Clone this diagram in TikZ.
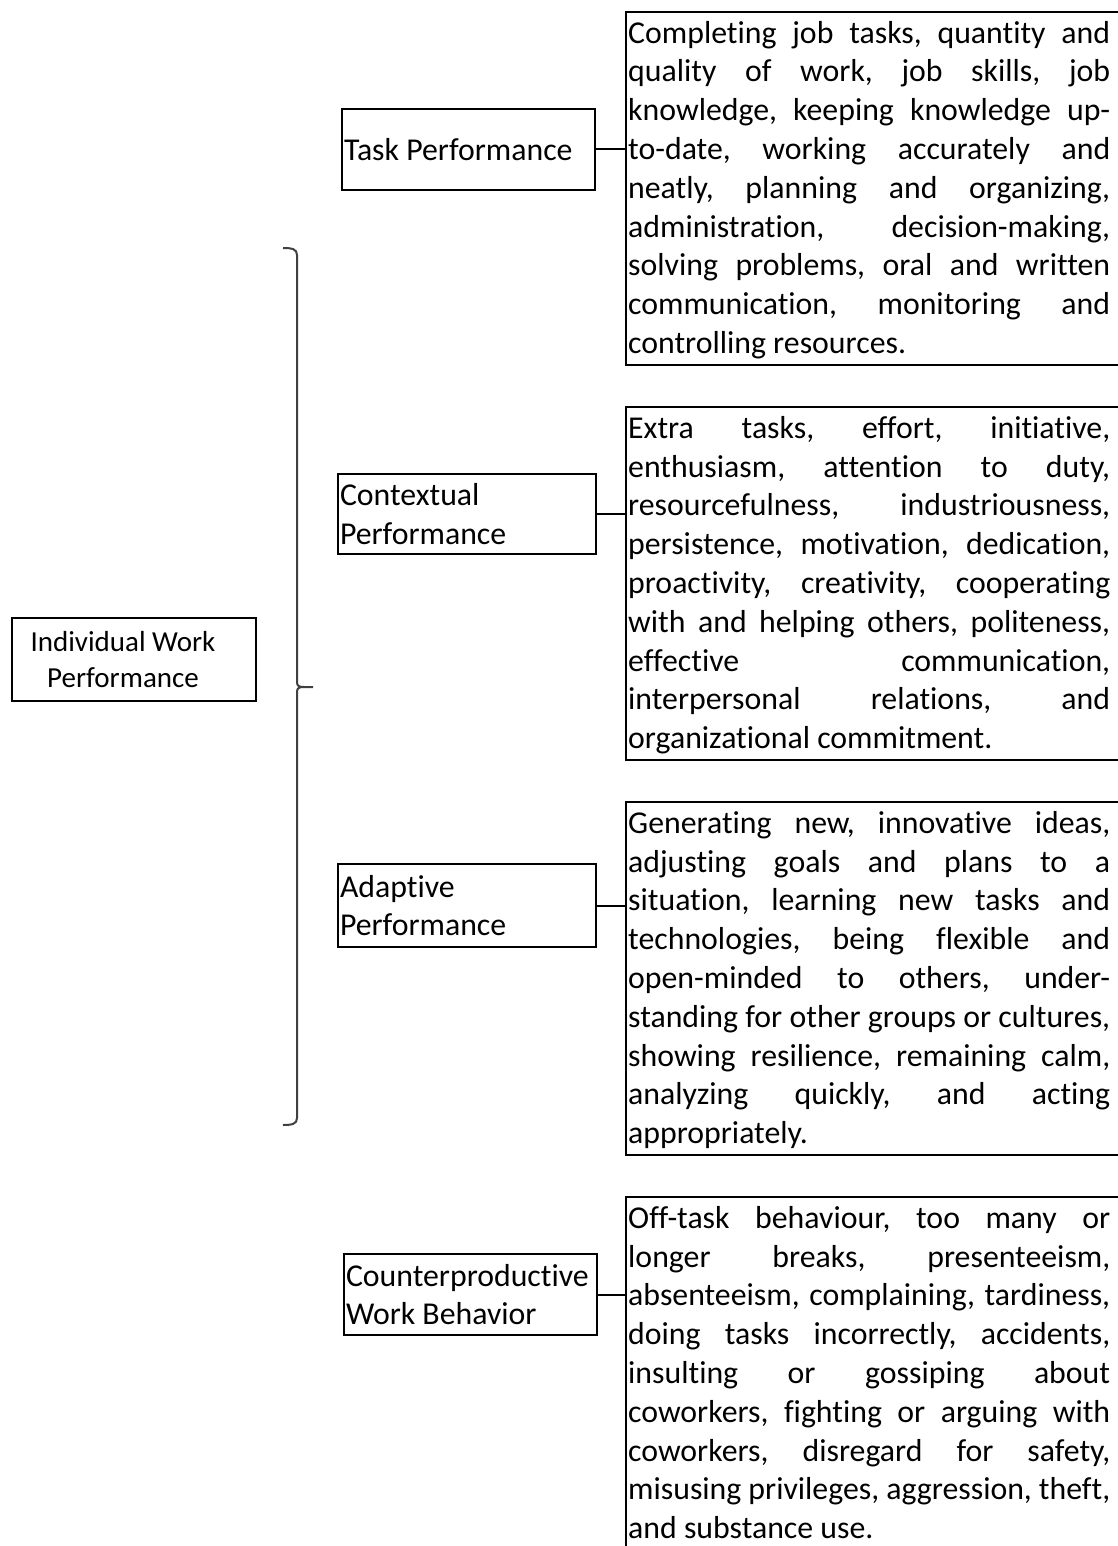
\documentclass[tikz,border=0pt]{standalone}
\usepackage{fontspec}
\setmainfont{Carlito}[Ligatures=NoCommon]
\newcommand\jline[1]{\makebox[\linewidth][s]{#1}\par}
\newcommand\lline[1]{\makebox[\linewidth][l]{#1}\par}
\begin{document}
\begin{tikzpicture}[x=1pt,y=-1pt,
  every node/.style={font=\fontsize{31.8pt}{38.8pt}\selectfont},
  frame/.style={draw=black,line width=2pt},
  lbox/.style={draw=black,line width=2pt,anchor=north west,inner xsep=2pt,inner ysep=0pt,align=flush left},
  rootbox/.style={draw=black,line width=2pt,anchor=north west,inner sep=0pt,align=center,
    font=\fontsize{29pt}{35.4pt}\selectfont},
  desc/.style={anchor=north west,inner xsep=2pt,inner ysep=0pt,text height=31pt,text depth=322pt},
  link/.style={draw=black,line width=2pt},
  bracket/.style={draw=black!75,line width=2pt}]
\path[use as bounding box] (0,0) rectangle (1118,1546);
\clip (0,0) rectangle (1118,1546);
\coordinate (rim) at (1140,0);

% description boxes
\node[desc] (d1) at (626,12) {\parbox[t]{482pt}{\frenchspacing
\jline{Completing job tasks, quantity and}
\jline{quality of work, job skills, job}
\jline{knowledge, keeping knowledge up-}
\jline{to-date, working accurately and}
\jline{neatly, planning and organizing,}
\jline{administration, decision-making,}
\jline{solving problems, oral and written}
\jline{communication, monitoring and}
\lline{controlling resources.}}};

\node[desc] (d2) at (626,407) {\parbox[t]{482pt}{\frenchspacing
\jline{Extra tasks, effort, initiative,}
\jline{enthusiasm, attention to duty,}
\jline{resourcefulness, industriousness,}
\jline{persistence, motivation, dedication,}
\jline{proactivity, creativity, cooperating}
\jline{with and helping others, politeness,}
\jline{effective communication,}
\jline{interpersonal relations, and}
\lline{organizational commitment.}}};

\node[desc] (d3) at (626,802) {\parbox[t]{482pt}{\frenchspacing
\jline{Generating new, innovative ideas,}
\jline{adjusting goals and plans to a}
\jline{situation, learning new tasks and}
\jline{technologies, being flexible and}
\jline{open-minded to others, under-}
\jline{standing for other groups or cultures,}
\jline{showing resilience, remaining calm,}
\jline{analyzing quickly, and acting}
\lline{appropriately.}}};

\node[desc] (d4) at (626,1197) {\parbox[t]{482pt}{\frenchspacing
\jline{Off-task behaviour, too many or}
\jline{longer breaks, presenteeism,}
\jline{absenteeism, complaining, tardiness,}
\jline{doing tasks incorrectly, accidents,}
\jline{insulting or gossiping about}
\jline{coworkers, fighting or arguing with}
\jline{coworkers, disregard for safety,}
\jline{misusing privileges, aggression, theft,}
\lline{and substance use.}}};

\foreach \d in {d1,d2,d3,d4}{
  \draw[frame] (rim |- \d.north) -- (\d.north west) -- (\d.south west) -- (rim |- \d.south);
}

% category boxes
\node[lbox,minimum width=253pt,minimum height=81pt,text width=249pt] (t1) at (341,108) {Task Performance};
\node[lbox,minimum width=258pt,minimum height=80pt,text width=254pt] (t2) at (337,473) {Contextual\\Performance};
\node[lbox,minimum width=258pt,minimum height=83pt,text width=254pt] (t3) at (337,863) {Adaptive\\Performance};
\node[lbox,minimum width=253pt,minimum height=81pt,text width=249pt] (t4) at (343,1253) {Counterproductive\\Work Behavior};

% root
\node[rootbox,minimum width=244pt,minimum height=83pt] (root) at (11,617) {Individual Work\hspace*{22pt}\\Performance\hspace*{22pt}};

% connectors
\draw[link] (t1.east) -- (t1.east -| d1.west);
\draw[link] (t2.east) -- (t2.east -| d2.west);
\draw[link] (t3.east) -- (t3.east -| d3.west);
\draw[link] (t4.east) -- (t4.east -| d4.west);

% bracket
\draw[bracket] (283,248) .. controls (292,248) and (297,249) .. (297,255) -- (297,682)
  .. controls (297,686) and (299,687) .. (304,687) -- (313,687);
\draw[bracket] (304,687) .. controls (299,687) and (297,688) .. (297,692) -- (297,1118)
  .. controls (297,1124) and (292,1125) .. (283,1125);
\end{tikzpicture}
\end{document}
